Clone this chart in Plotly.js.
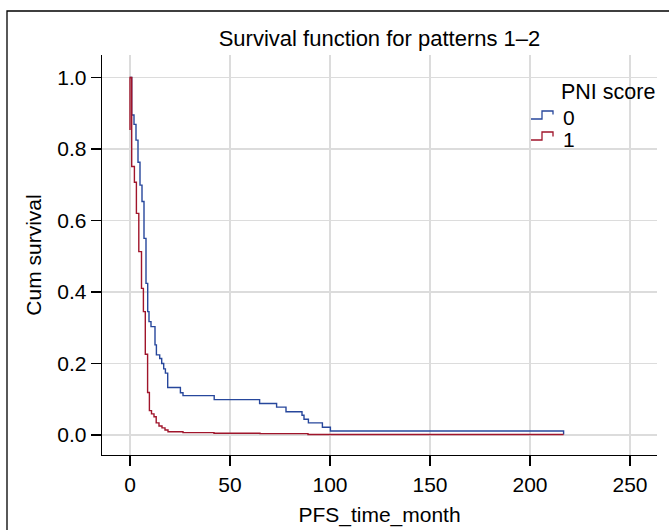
<!DOCTYPE html>
<html>
<head>
<meta charset="utf-8">
<script src="https://cdn.plot.ly/plotly-3.0.1.min.js"></script>
<style>html,body{margin:0;padding:0;background:#fff;}#chart{width:669px;height:530px;}</style>
</head>
<body>
<div id="chart"></div>
<script>
// ---- data ----
var chartTitle = "Survival function for patterns 1–2";
var xTitle = "PFS_time_month";
var yTitle = "Cum survival";
var legendTitle = "PNI score";
var groupNames = ["0", "1"];

var time0 = [0, 0.85, 2.0, 3.0, 4.0, 5.0, 6.0, 7.0, 8.0, 8.85, 9.5, 10.5, 12.5, 13.2, 14.85, 15.85, 16.85, 17.7, 18.85, 25.2, 26.5, 42.1, 64.8, 73.3, 78, 86, 87, 89.2, 96.2, 100.2, 216.8];
var surv0 = [1, 0.895, 0.869, 0.825, 0.763, 0.699, 0.653, 0.550, 0.424, 0.345, 0.317, 0.303, 0.252, 0.224, 0.214, 0.200, 0.185, 0.173, 0.133, 0.118, 0.110, 0.099, 0.088, 0.078, 0.065, 0.055, 0.044, 0.034, 0.0215, 0.011, 0.0012];

var time1 = [0, 0, 0.85, 2.2, 3.2, 4.4, 5.75, 6.7, 7.65, 8.8, 9.7, 10.75, 12, 13.1, 14.5, 16, 17.5, 19, 26.5, 42, 65, 89, 216.8];
var surv1 = [0.853, 1, 0.751, 0.707, 0.620, 0.513, 0.410, 0.345, 0.226, 0.119, 0.068, 0.059, 0.051, 0.034, 0.025, 0.020, 0.014, 0.009, 0.0065, 0.0047, 0.0037, 0.0012, 0.0012];

var xTicks = [0, 50, 100, 150, 200, 250];
var yTicks = [0, 0.2, 0.4, 0.6, 0.8, 1.0];

// ---- styling ----
var W = 669, H = 530;
var L = 102, R = 657, T = 55, B = 455;
var colors = ["#27479c", "#a0152b"];
var font = "Liberation Sans, Arial, Helvetica, sans-serif";
function px2x(p){ return (p - L) / (R - L); }
function px2y(p){ return (B - p) / (B - T); }

var traces = [
  {x: time0, y: surv0, type: "scatter", mode: "lines", line: {shape: "hv", color: colors[0], width: 1.4}, name: groupNames[0], hoverinfo: "x+y"},
  {x: time1, y: surv1, type: "scatter", mode: "lines", line: {shape: "hv", color: colors[1], width: 1.4}, name: groupNames[1], hoverinfo: "x+y"}
];

function stepGlyph(yLow, yHigh, yEnd, color){
  var p = "M " + px2x(531) + "," + px2y(yLow) + " L " + px2x(542) + "," + px2y(yLow) +
          " L " + px2x(542) + "," + px2y(yHigh) + " L " + px2x(553) + "," + px2y(yHigh) +
          " L " + px2x(553) + "," + px2y(yEnd);
  return {type: "path", xref: "paper", yref: "paper", path: p, line: {color: color, width: 1.3}, layer: "above"};
}

var shapes = [
  // legend background
  {type: "rect", xref: "paper", yref: "paper", x0: px2x(522), x1: px2x(656), y0: px2y(147), y1: px2y(79),
   fillcolor: "#ffffff", line: {width: 0}, layer: "between"},
  stepGlyph(119, 111, 114.5, colors[0]),
  stepGlyph(140, 132, 136.5, colors[1]),
  // outer frame
  {type: "rect", xref: "paper", yref: "paper", x0: px2x(7), x1: px2x(760), y0: px2y(600), y1: px2y(11),
   line: {color: "#000", width: 1.3}, fillcolor: "rgba(0,0,0,0)", layer: "above"}
];

var annotations = [
  {text: legendTitle, xref: "paper", yref: "paper", x: px2x(559), y: px2y(92), xanchor: "left", yanchor: "middle", showarrow: false, font: {family: font, size: 21.5, color: "#000"}},
  {text: groupNames[0], xref: "paper", yref: "paper", x: px2x(561), y: px2y(117), xanchor: "left", yanchor: "middle", showarrow: false, font: {family: font, size: 21, color: "#000"}},
  {text: groupNames[1], xref: "paper", yref: "paper", x: px2x(561), y: px2y(139), xanchor: "left", yanchor: "middle", showarrow: false, font: {family: font, size: 21, color: "#000"}}
];

var layout = {
  width: W, height: H,
  margin: {l: L, r: W - R, t: T, b: H - B, pad: 0},
  paper_bgcolor: "#fff", plot_bgcolor: "#fff",
  showlegend: false,
  font: {family: font, size: 21, color: "#000"},
  title: {text: chartTitle, x: 0.5, xref: "paper", y: 1 - 38 / H, yref: "container", yanchor: "middle", xanchor: "center", font: {family: font, size: 22, color: "#000"}},
  xaxis: {
    range: [-14, 263.5], tickvals: xTicks, ticktext: xTicks.map(String),
    showgrid: true, gridcolor: "#dcdcdc", gridwidth: 1.3, zeroline: false,
    showline: true, linecolor: "#000", linewidth: 1.3,
    ticks: "outside", ticklen: 10, tickwidth: 1.3, tickcolor: "#000",
    tickfont: {family: font, size: 21, color: "#000"},
    title: {text: xTitle, font: {family: font, size: 21, color: "#000"}, standoff: 12}
  },
  yaxis: {
    range: [-0.056, 1.063], tickvals: yTicks, ticktext: yTicks.map(function(v){ return v.toFixed(1); }),
    showgrid: true, gridcolor: "#dcdcdc", gridwidth: 1.3, zeroline: false,
    showline: true, linecolor: "#000", linewidth: 1.3,
    ticks: "outside", ticklen: 10, tickwidth: 1.3, tickcolor: "#000",
    tickfont: {family: font, size: 21, color: "#000"},
    title: {text: yTitle, font: {family: font, size: 21, color: "#000"}, standoff: 10}
  },
  shapes: shapes,
  annotations: annotations
};

Plotly.newPlot("chart", traces, layout, {displayModeBar: false, staticPlot: true});
</script>
</body>
</html>
